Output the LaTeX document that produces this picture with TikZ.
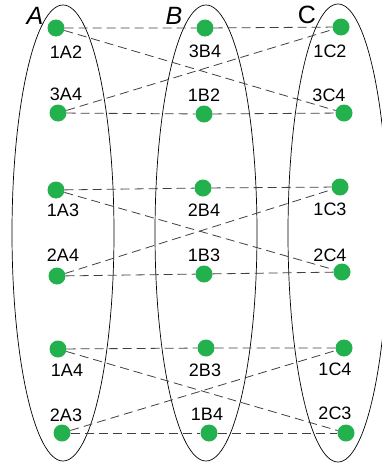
\documentclass[tikz,border=0pt]{standalone}
\usepackage{fontspec}
\setmainfont{Liberation Sans}
\usetikzlibrary{shapes.geometric}
\definecolor{dotgreen}{RGB}{34,177,76}
\begin{document}
\begin{tikzpicture}[x=1pt, y=-1pt,
    grp/.style={draw, ellipse, line width=0.7pt, inner sep=0pt,
                minimum width=102pt, minimum height=456pt},
    dot/.style={circle, fill=dotgreen, minimum size=17pt, inner sep=0pt},
    lbl/.style={font=\fontsize{18}{20}\selectfont, inner sep=0pt},
    setname/.style={font=\fontsize{25}{28}\selectfont\itshape, inner sep=0pt},
    link/.style={draw=black!75, line width=0.8pt, dash pattern=on 9pt off 5pt},
  ]
    \useasboundingbox (0,0) rectangle (382,466);

    % Mengen
    \node[grp] (setA) at (63,233) {};
    \node[grp] (setB) at (206,233) {};
    \node[grp, minimum width=100pt, minimum height=458pt] (setC) at (338,233) {};
    \node[setname] (nA) at (35,16) {A};
    \node[setname] (nB) at (174,16) {B};
    \node[setname, font=\fontsize{25}{28}\selectfont] (nC) at (307,15) {C};

    % Spalte A
    \node[dot] (a12) at (56,28) {};
    \node[lbl] at (66,52) {1A2};
    \node[dot] (a34) at (58,113) {};
    \node[lbl] at (66,94) {3A4};
    \node[dot] (a13) at (56,190) {};
    \node[lbl] at (63,210) {1A3};
    \node[dot] (a24) at (57,276) {};
    \node[lbl] at (63,255) {2A4};
    \node[dot] (a14) at (58,349) {};
    \node[lbl] at (67,370) {1A4};
    \node[dot] (a23) at (62,433) {};
    \node[lbl] at (66,415) {2A3};

    % Spalte B
    \node[dot] (b34) at (205,28) {};
    \node[lbl] at (205,51) {3B4};
    \node[dot] (b12) at (204,114) {};
    \node[lbl] at (204,95) {1B2};
    \node[dot] (b24) at (203,188) {};
    \node[lbl] at (204,210) {2B4};
    \node[dot] (b13) at (204,274) {};
    \node[lbl] at (204,255) {1B3};
    \node[dot] (b23) at (206,348) {};
    \node[lbl] at (205,370) {2B3};
    \node[dot] (b14) at (209,433) {};
    \node[lbl] at (207,414) {1B4};

    % Spalte C
    \node[dot] (c12) at (341,27) {};
    \node[lbl] at (330,51) {1C2};
    \node[dot] (c34) at (344,113) {};
    \node[lbl] at (329,95) {3C4};
    \node[dot] (c13) at (340,187) {};
    \node[lbl] at (330,209) {1C3};
    \node[dot] (c24) at (342,272) {};
    \node[lbl] at (330,255) {2C4};
    \node[dot] (c14) at (344,348) {};
    \node[lbl] at (335,369) {1C4};
    \node[dot] (c23) at (346,433) {};
    \node[lbl] at (335,413) {2C3};

    % waagrechte Linien
    \draw[link] (a12) -- (b34) (b34) -- (c12);
    \draw[link] (a34) -- (b12) (b12) -- (c34);
    \draw[link] (a13) -- (b24) (b24) -- (c13);
    \draw[link] (a24) -- (b13) (b13) -- (c24);
    \draw[link] (a14) -- (b23) (b23) -- (c14);
    \draw[link] (a23) -- (b14) (b14) -- (c23);

    % Kreuzungen
    \draw[link] (a12) -- (c34);
    \draw[link] (a34) -- (c12);
    \draw[link] (a13) -- (c24);
    \draw[link] (a24) -- (c13);
    \draw[link] (a14) -- (c23);
    \draw[link] (a23) -- (c14);
  \end{tikzpicture}
\end{document}
